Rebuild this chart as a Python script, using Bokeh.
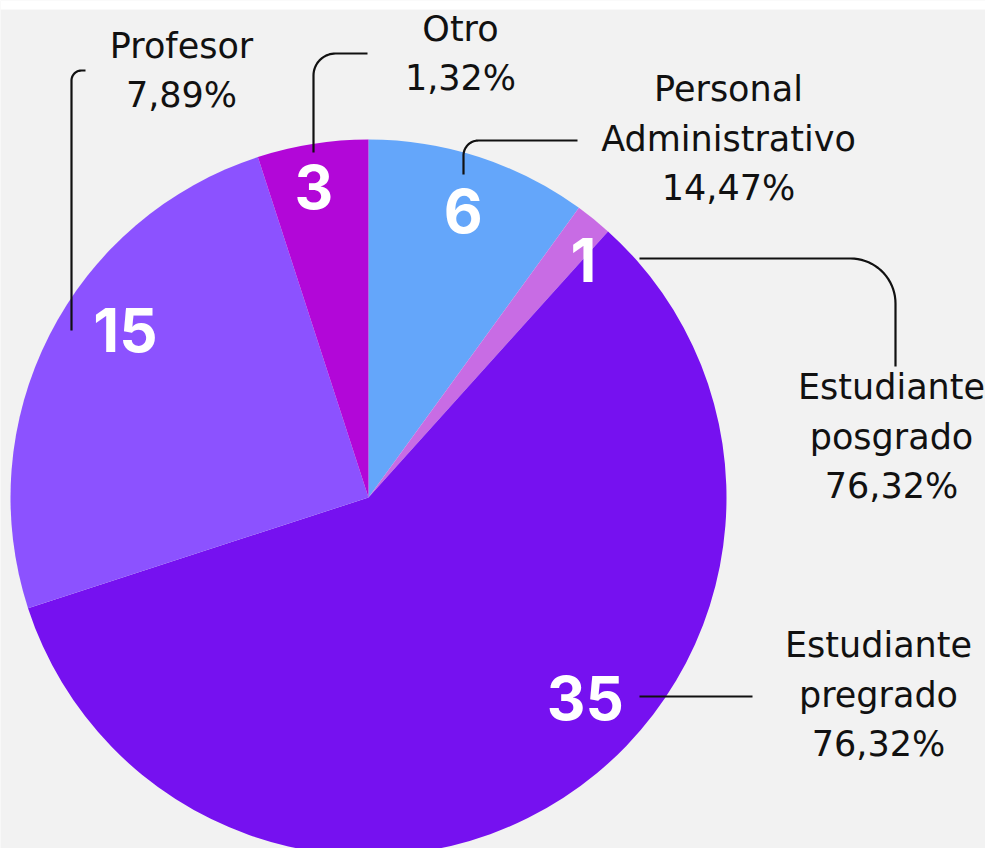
import numpy as np
from bokeh.plotting import figure
from bokeh.models import Range1d, ColumnDataSource, BoxAnnotation
from bokeh.core.properties import value
from bokeh.embed import file_html
from bokeh.resources import INLINE

# ---- data ----
categories = ["Personal Administrativo", "Estudiante posgrado", "Estudiante pregrado", "Profesor", "Otro"]
counts = [6, 1, 35, 15, 3]
percent_labels = ["14,47%", "76,32%", "76,32%", "7,89%", "1,32%"]
colors = ["#64a6fa", "#c86ce4", "#7611f0", "#8c52ff", "#b207d8"]

# ---- layout (pixels of the picture) ----
W, H = 985, 848
def Y(sy):
    return H - sy

CX, CY, R = 368, 497, 358
# number label placement: (angle clockwise from top in deg, distance from centre)
num_pos = [(18.3, 302), (42.2, 320), (132.7, 295), (304.5, 295), (350, 315)]
# category label block centre
lab_pos = [(728, 138), (891, 436), (878, 694), (181, 70), (460, 53)]
LINE_GAP = 49.5
# leader polylines with corner radius
leaders = [
    ([(463, 174), (463, 140), (577, 140)], 15),
    ([(639, 258), (895, 258), (895, 366)], 45),
    ([(639, 696), (752, 696)], 0),
    ([(71, 330), (71, 70), (85, 70)], 10),
    ([(313, 152), (313, 53), (367, 53)], 22),
]

p = figure(width=W, height=H, output_backend="svg", toolbar_location=None,
           x_range=Range1d(0, W), y_range=Range1d(0, H),
           min_border=0, match_aspect=False)
p.axis.visible = False
p.grid.visible = False
p.outline_line_color = None
p.background_fill_color = "#f2f2f2"
p.border_fill_color = "#f2f2f2"

total = sum(counts)
cum = np.concatenate([[0], np.cumsum(counts)])
starts = [np.pi / 2 - 2 * np.pi * cum[i] / total for i in range(len(counts))]
ends = [np.pi / 2 - 2 * np.pi * cum[i + 1] / total for i in range(len(counts))]
src = ColumnDataSource(dict(start=starts, end=ends, color=colors, cat=categories))
p.wedge(x=CX, y=Y(CY), radius=R, start_angle="start", end_angle="end",
        direction="clock", fill_color="color", line_color=None, source=src)

# leader lines
def rounded(points, r):
    if r == 0 or len(points) < 3:
        return [pt[0] for pt in points], [pt[1] for pt in points]
    xs, ys = [points[0][0]], [points[0][1]]
    for i in range(1, len(points) - 1):
        p0, p1, p2 = np.array(points[i - 1], float), np.array(points[i], float), np.array(points[i + 1], float)
        d1 = (p1 - p0) / np.linalg.norm(p1 - p0)
        d2 = (p2 - p1) / np.linalg.norm(p2 - p1)
        a = p1 - d1 * r
        b = p1 + d2 * r
        centre = a + d2 * r
        t = np.linspace(0, 1, 20)
        va = a - centre
        vb = b - centre
        ang_a = np.arctan2(va[1], va[0])
        ang_b = np.arctan2(vb[1], vb[0])
        dang = (ang_b - ang_a + np.pi) % (2 * np.pi) - np.pi
        for ang in ang_a + dang * t:
            xs.append(centre[0] + r * np.cos(ang))
            ys.append(centre[1] + r * np.sin(ang))
    xs.append(points[-1][0]); ys.append(points[-1][1])
    return xs, ys

lx, ly = [], []
for pts, r in leaders:
    xs, ys = rounded(pts, r)
    lx.append(xs); ly.append([Y(v) for v in ys])
p.multi_line(lx, ly, line_color="#111111", line_width=2.2)

# numbers inside the pie
nx = [CX + d * np.sin(np.radians(a)) for a, d in num_pos]
ny = [Y(CY - d * np.cos(np.radians(a))) for a, d in num_pos]
p.text(x=nx, y=ny, text=[str(c) for c in counts], text_color="white",
       text_font=value("Inter"), text_font_style="bold", text_font_size="60px",
       text_align="center", text_baseline="middle")

# category labels
tx, ty, tt = [], [], []
for (x0, y0), cat, pct in zip(lab_pos, categories, percent_labels):
    lines = cat.split(" ") + [pct]
    n = len(lines)
    for k, ln in enumerate(lines):
        tx.append(x0)
        ty.append(Y(y0 + (k - (n - 1) / 2) * LINE_GAP))
        tt.append(ln)
p.text(x=tx, y=ty, text=tt, text_color="#111111", text_font=value("DejaVu Sans"),
       text_font_size="35px", text_align="center", text_baseline="middle")

# white strip along the top edge, as in the reference
p.add_layout(BoxAnnotation(bottom=H - 9, fill_color="white", fill_alpha=1.0, line_color=None))

open("out.html", "w").write(file_html(p, INLINE))
